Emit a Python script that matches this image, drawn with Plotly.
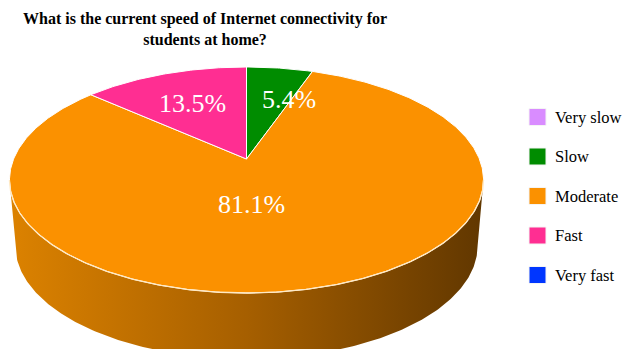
import numpy as np
import plotly.graph_objects as go

# Survey answers and their shares (percent)
categories = ["Very slow", "Slow", "Moderate", "Fast", "Very fast"]
shares = [0.0, 5.4, 81.1, 13.5, 0.0]
colors = ["#d98cff", "#008c00", "#fb9100", "#ff2e92", "#0036ff"]
side_shades = {"#fb9100": ["#dc8200", "#a65f00", "#613700"]}

title_text = ("<b>What is the current speed of Internet connectivity for<br>"
              "students at home?</b>")

SERIF = "Times New Roman, Liberation Serif, serif"
W, H = 623, 349

# Perspective disc projection (pixel space)
CX, CY = 246.5, 159.0      # projected centre of the disc
RX, RY = 232.9, 109.1      # horizontal / depth scale
K = 0.1858                 # perspective strength
DEPTH = 66.0               # thickness of the disc in pixels
SHRINK = 0.975             # bottom rim recedes slightly
LABEL_SIZE = 26


def project(theta_deg, r=1.0):
    t = np.radians(theta_deg)
    x = r * np.sin(t)
    z = r * np.cos(t)
    w = 1.0 + K * z
    return CX + RX * x / w, CY - RY * z / w


def arc(a0, a1, n=None):
    n = n or max(int(abs(a1 - a0) * 1.5), 4)
    th = np.linspace(a0, a1, n)
    return project(th)


def centroid(px, py):
    cross = px[:-1] * py[1:] - px[1:] * py[:-1]
    area = cross.sum() / 2
    cx = ((px[:-1] + px[1:]) * cross).sum() / (6 * area)
    cy = ((py[:-1] + py[1:]) * cross).sum() / (6 * area)
    return cx, cy


def text_width(s, size):
    # rough Times advance widths
    adv = {".": 0.25, "%": 0.833}
    return sum(adv.get(c, 0.5) for c in s) * size


fig = go.Figure()

# angular extents, clockwise from 12 o'clock
total = sum(shares)
bounds = np.concatenate([[0.0], np.cumsum(shares) / total * 360.0])

# visible front wall spans between the left/right silhouette points
theta_right = np.degrees(np.arctan2(np.sqrt(1 - K * K), -K))
theta_left = 360.0 - theta_right

for i, (cat, v, col) in enumerate(zip(categories, shares, colors)):
    if v <= 0:
        continue
    a0, a1 = bounds[i], bounds[i + 1]
    s0, s1 = max(a0, theta_right), min(a1, theta_left)
    if s1 <= s0:
        continue
    tx, ty = arc(s0, s1)
    bx = CX + (tx - CX) * SHRINK
    by = ty + DEPTH
    px = np.concatenate([tx, bx[::-1], [tx[0]]])
    py = np.concatenate([ty, by[::-1], [ty[0]]])
    shades = side_shades.get(col, [col, col, col])
    fig.add_trace(go.Scatter(
        x=px, y=py, mode="lines", line=dict(width=0), fill="toself",
        fillgradient=dict(type="horizontal",
                          colorscale=[[0, shades[0]], [0.5, shades[1]], [1, shades[2]]]),
        hoverinfo="skip", showlegend=False))

# top face slices
faces = {}
for i, (cat, v, col) in enumerate(zip(categories, shares, colors)):
    if v <= 0:
        continue
    ax, ay = arc(bounds[i], bounds[i + 1])
    px = np.concatenate([[CX], ax, [CX]])
    py = np.concatenate([[CY], ay, [CY]])
    faces[i] = (px, py)
    fig.add_trace(go.Scatter(
        x=px, y=py, mode="lines", line=dict(color="white", width=1),
        fill="toself", fillcolor=col, hoverinfo="skip", showlegend=False))

# light rim where the top face meets the wall
rx_, ry_ = arc(theta_right, theta_left)
fig.add_trace(go.Scatter(x=rx_, y=ry_, mode="lines",
                         line=dict(color="#ffe9c4", width=1.3),
                         hoverinfo="skip", showlegend=False))

# percentage labels: the dominant slice is labelled at the centre of its face,
# the small ones near the rim, kept clear of the 12 o'clock divider
CLEAR = 15
for i, v in enumerate(shares):
    if v <= 0:
        continue
    txt = f"{v:.1f}%"
    if v > 50:
        lx, ly = centroid(*faces[i])
        ly += 13
    else:
        mid = (bounds[i] + bounds[i + 1]) / 2
        lx, ly = project(mid, 0.62)
        half = text_width(txt, LABEL_SIZE) / 2
        if lx >= CX and lx - half < CX + CLEAR:
            lx = CX + CLEAR + half
        elif lx < CX and lx + half > CX - CLEAR:
            lx = CX - CLEAR - half
    fig.add_annotation(x=lx, y=ly, text=txt, showarrow=False,
                       font=dict(family=SERIF, size=LABEL_SIZE, color="white"),
                       xanchor="center", yanchor="middle")

# legend column on the right
leg_x = 537.5
leg_y = 117 + 39.5 * np.arange(len(categories))
fig.add_trace(go.Scatter(
    x=[leg_x] * len(categories), y=leg_y, mode="markers",
    marker=dict(symbol="square", size=17, color=colors,
                line=dict(color="#f4f4f4", width=1)),
    hoverinfo="skip", showlegend=False))
for cat, y in zip(categories, leg_y):
    fig.add_annotation(x=leg_x + 15, y=y, text=cat, showarrow=False,
                       xanchor="left", yanchor="middle",
                       font=dict(family=SERIF, size=16.5, color="black"))

fig.add_annotation(x=204.5, y=29, text=title_text, showarrow=False,
                   xanchor="center", yanchor="middle", align="center",
                   font=dict(family=SERIF, size=16, color="black"))

fig.update_layout(
    width=W, height=H, margin=dict(l=0, r=0, t=0, b=0),
    paper_bgcolor="white", plot_bgcolor="white",
    xaxis=dict(range=[0, W], visible=False, fixedrange=True),
    yaxis=dict(range=[H, 0], visible=False, fixedrange=True),
    showlegend=False,
)

fig.write_html("out.html")
